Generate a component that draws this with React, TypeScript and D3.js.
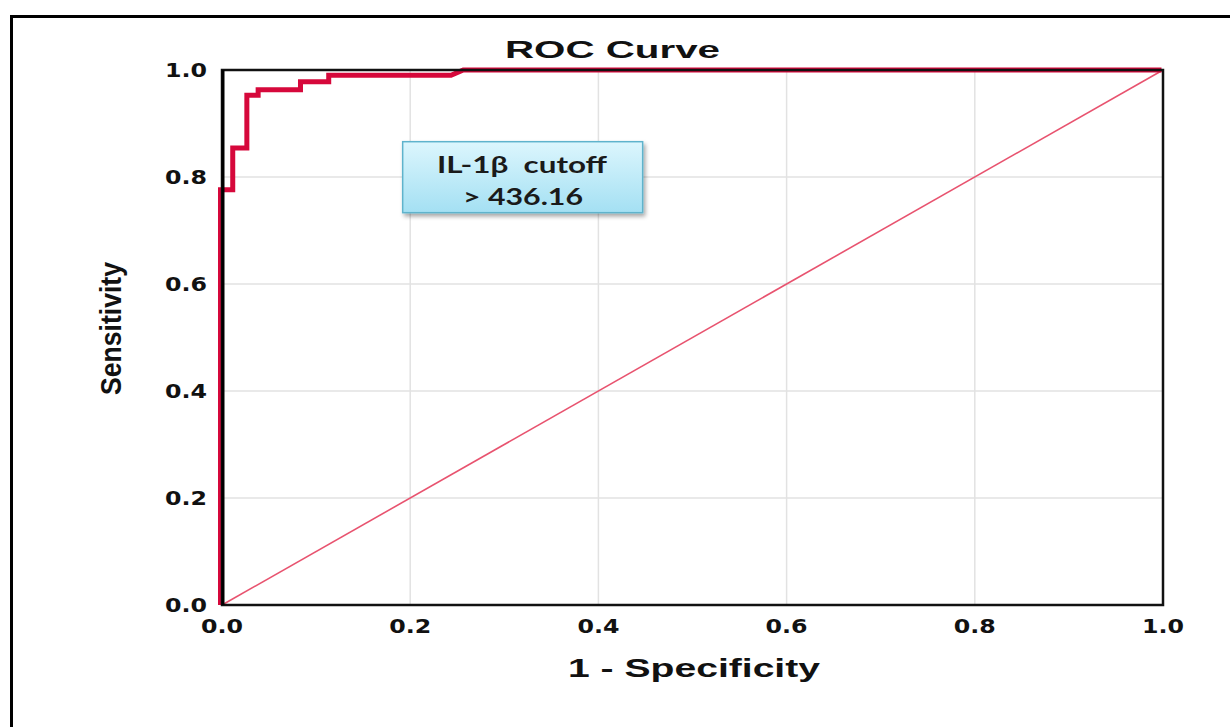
import React from "react";
import * as d3 from "d3";

const rocFpr = [0, 0, 0.013, 0.013, 0.028, 0.028, 0.040, 0.040, 0.085, 0.085, 0.115, 0.115, 0.245, 0.258, 1.0];
const rocTpr = [0, 0.776, 0.776, 0.854, 0.854, 0.953, 0.953, 0.963, 0.963, 0.978, 0.978, 0.99, 0.99, 1.0, 1.0];
const refX = [0, 1];
const refY = [0, 1];
const ticks = [0, 0.2, 0.4, 0.6, 0.8, 1.0];
const title = "ROC Curve";
const xLabel = "1 - Specificity";
const yLabel = "Sensitivity";
const noteLines = ["IL-1β  cutoff", "> 436.16"];

export default function App() {
  const W = 1230, H = 727;
  const left = 222, right = 1163, top = 70, bottom = 605;
  const x = d3.scaleLinear().domain([0, 1]).range([left, right]);
  const y = d3.scaleLinear().domain([0, 1]).range([bottom, top]);
  const line = d3.line<number>().x((_, i) => x(rocFpr[i]) - 1.5).y((d) => y(d));
  const refLine = d3.line<number>().x((_, i) => x(refX[i])).y((d) => y(d));
  const tickFont = "'DejaVu Sans', Verdana, sans-serif";
  const boxX = x(0.192), boxY = y(0.866), boxW = 240, boxH = 71;
  return (
    <div style={{ position: "fixed", left: 0, top: 0 }}>
      <svg width={W} height={H} style={{ display: "block", background: "#fff" }}>
        <defs>
          <linearGradient id="boxg" x1="0" y1="0" x2="0" y2="1">
            <stop offset="0" stopColor="#dcf6fd" />
            <stop offset="1" stopColor="#a4e0f3" />
          </linearGradient>
          <filter id="sh" x="-10%" y="-10%" width="130%" height="140%">
            <feDropShadow dx="2" dy="3" stdDeviation="2" floodColor="#000" floodOpacity="0.35" />
          </filter>
        </defs>
        <rect x={11.5} y={16.5} width={1240} height={730} fill="none" stroke="#000" strokeWidth={3} />
        {ticks.slice(1, 5).map((t) => (
          <g key={"g" + t}>
            <line x1={x(t)} x2={x(t)} y1={top} y2={bottom} stroke="#e2e2e2" strokeWidth={1.5} />
            <line x1={left} x2={right} y1={y(t)} y2={y(t)} stroke="#e2e2e2" strokeWidth={1.5} />
          </g>
        ))}
        <path d={refLine(refY) || ""} fill="none" stroke="#e8536f" strokeWidth={1.6} />
        <path d={line(rocTpr) || ""} fill="none" stroke="#d6083b" strokeWidth={5} strokeLinejoin="miter" />
        <rect x={left} y={top} width={right - left} height={bottom - top} fill="none" stroke="#111" strokeWidth={2.5} />
        <line x1={left + 1} x2={left + 1} y1={top} y2={bottom} stroke="#000" strokeWidth={3} />
        {ticks.map((t) => (
          <text key={"y" + t} x={left - 15} y={y(t) + 7} textAnchor="end" fontFamily={tickFont} fontWeight="bold" fontSize={20} textLength={42} lengthAdjust="spacingAndGlyphs" fill="#111">
            {t.toFixed(1)}
          </text>
        ))}
        {ticks.map((t) => (
          <text key={"x" + t} x={x(t) - 21} y={bottom + 28} fontFamily={tickFont} fontWeight="bold" fontSize={20} textLength={42} lengthAdjust="spacingAndGlyphs" fill="#111">
            {t.toFixed(1)}
          </text>
        ))}
        <text x={505} y={58} fontFamily="'Liberation Sans', Arial, sans-serif" fontWeight="bold" fontSize={24} textLength={215} lengthAdjust="spacingAndGlyphs" fill="#111">
          {title}
        </text>
        <text x={568} y={677} fontFamily="'Liberation Sans', Arial, sans-serif" fontWeight="bold" fontSize={26} textLength={252} lengthAdjust="spacingAndGlyphs" fill="#111">
          {xLabel}
        </text>
        <text transform={`translate(121, 395) rotate(-90)`} fontFamily="'Liberation Sans Narrow', 'Arial Narrow', sans-serif" fontWeight="bold" fontSize={30} textLength={133} lengthAdjust="spacingAndGlyphs" fill="#111">
          {yLabel}
        </text>
        <rect x={boxX} y={boxY} width={boxW} height={boxH} fill="url(#boxg)" stroke="#5fb3cc" strokeWidth={1.5} filter="url(#sh)" />
        <text x={437} y={173} fontFamily="Lato, 'Open Sans', sans-serif" fontWeight="bold" fontSize={22} textLength={170} lengthAdjust="spacingAndGlyphs" fill="#1a1a1a" style={{ whiteSpace: "pre" }}>
          {noteLines[0]}
        </text>
        <text x={463} y={205} fontFamily="Lato, 'Open Sans', sans-serif" fontWeight="bold" fontSize={22} textLength={120} lengthAdjust="spacingAndGlyphs" fill="#1a1a1a">
          {noteLines[1]}
        </text>
      </svg>
    </div>
  );
}
